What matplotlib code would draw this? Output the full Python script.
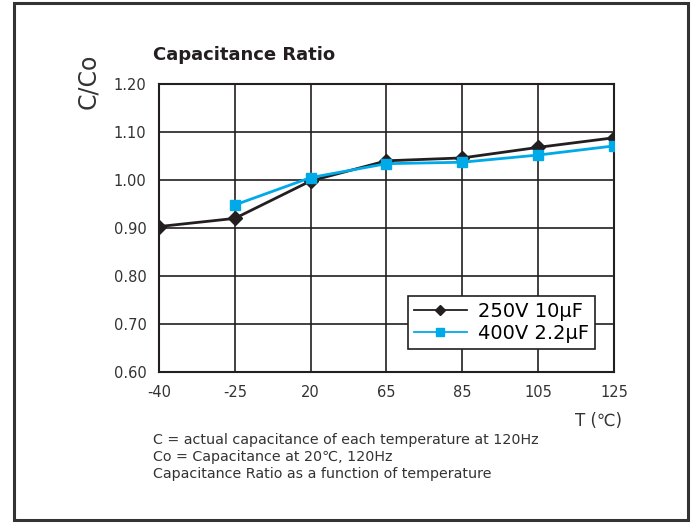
import matplotlib.pyplot as plt
from matplotlib.patches import Rectangle

temps = ['-40', '-25', '20', '65', '85', '105', '125']
ratio_250v = [0.903, 0.920, 0.998, 1.040, 1.046, 1.068, 1.088]
temps_400v = ['-25', '20', '65', '85', '105', '125']
ratio_400v = [0.948, 1.005, 1.034, 1.037, 1.052, 1.071]

plt.rcParams['font.family'] = ['DejaVu Sans']

fig = plt.figure(figsize=(6.91, 5.23), dpi=100)
ax = fig.add_axes([0.230, 0.2887, 0.6586, 0.5507])

xpos = {t: i for i, t in enumerate(temps)}
ax.plot([xpos[t] for t in temps], ratio_250v, color='#231f20', lw=2,
        marker='D', ms=7, label='250V 10μF', zorder=3)
ax.plot([xpos[t] for t in temps_400v], ratio_400v, color='#00a9e8', lw=2,
        marker='s', ms=7, label='400V 2.2μF', zorder=3)

ax.set_xlim(0, len(temps) - 1)
ax.set_ylim(0.6, 1.2)
ax.set_xticks(range(len(temps)))
ax.set_xticklabels(temps)
ax.set_yticks([0.6, 0.7, 0.8, 0.9, 1.0, 1.1, 1.2])
ax.set_yticklabels(['0.60', '0.70', '0.80', '0.90', '1.00', '1.10', '1.20'])
ax.grid(True, color='#231f20', lw=1.2)
ax.tick_params(length=0, labelsize=10.5, colors='#333333', pad=9)
for s in ax.spines.values():
    s.set_color('#231f20')
    s.set_linewidth(1.5)

leg = ax.legend(loc='lower right', bbox_to_anchor=(0.98, 0.047), fontsize=14,
                fancybox=False, framealpha=1, edgecolor='#231f20',
                handlelength=2.7, borderpad=0.3, labelspacing=0.15,
                markerscale=0.75, handletextpad=0.6)
leg.get_frame().set_linewidth(1.2)
for line in leg.get_lines():
    line.set_linewidth(1.3)

fig.text(0.221, 0.895, 'Capacitance Ratio', fontsize=13, fontweight='bold',
         color='#231f20', va='center')
fig.text(0.128, 0.845, 'C/Co', fontsize=17, rotation=90, color='#333333',
         ha='center', va='center')
fig.text(0.832, 0.195, 'T (℃)', fontsize=12, color='#333333', va='center')

notes = ['C = actual capacitance of each temperature at 120Hz',
         'Co = Capacitance at 20℃, 120Hz',
         'Capacitance Ratio as a function of temperature']
for i, n in enumerate(notes):
    fig.text(0.221, 0.158 - i * 0.0325, n, fontsize=10.3, color='#333333', va='center')

fig.patches.append(Rectangle((14 / 691, 3 / 523), 674 / 691, 517 / 523,
                             transform=fig.transFigure, fill=False,
                             edgecolor='#333333', lw=2.2))

fig.savefig('out.png', dpi=100)
